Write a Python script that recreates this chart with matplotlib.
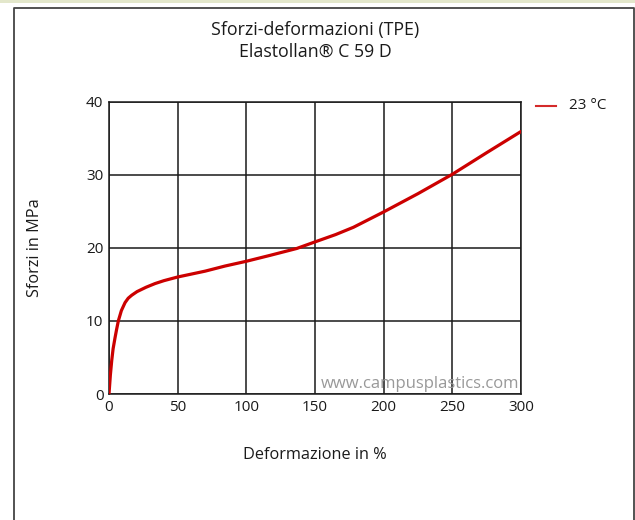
import matplotlib
matplotlib.use("Agg")
import matplotlib.pyplot as plt
from matplotlib.lines import Line2D
from matplotlib.patches import Rectangle

plt.rcParams['font.family'] = ['Open Sans', 'DejaVu Sans']

# curve
strain = [0, 1, 2, 3, 4.4, 5.5, 6.8, 9, 11.7, 14, 16.5, 20.4, 27, 33.5, 40, 50,
          60, 70, 84.5, 100, 117.3, 136.7, 150, 165, 178, 200, 212, 225, 250, 275, 300]
stress = [0, 2.6, 4.6, 6.2, 7.7, 8.8, 10.0, 11.4, 12.5, 13.1, 13.5, 14.0, 14.6, 15.1, 15.5, 16.0,
          16.4, 16.8, 17.5, 18.15, 18.96, 19.9, 20.8, 21.8, 22.8, 24.9, 26.1, 27.4, 30.05, 33.0, 35.9]
x_ticks = [0, 50, 100, 150, 200, 250, 300]
y_ticks = [0, 10, 20, 30, 40]

W, H = 635, 520
fig = plt.figure(figsize=(W / 100, H / 100), dpi=100)

# frame and top strip
fig.add_artist(Rectangle((0, 1 - 2.5 / H), 1, 2.5 / H, transform=fig.transFigure,
                         color='#e3e7cb', lw=0))
fig.add_artist(Line2D([13.5 / W, 13.5 / W, 633.5 / W, 633.5 / W],
                      [0, 1 - 8 / H, 1 - 8 / H, 0], transform=fig.transFigure,
                      color='#444444', lw=1.3))

ax = fig.add_axes([109 / W, 1 - 394 / H, 412 / W, 292.5 / H])
ax.plot(strain, stress, color='#cc0000', lw=2.3, solid_capstyle='round',
        solid_joinstyle='round', zorder=3)
ax.set_xlim(0, 300)
ax.set_ylim(0, 40)
ax.set_xticks(x_ticks)
ax.set_yticks(y_ticks)
ax.grid(True, color='#1a1a1a', lw=1.1)
for s in ax.spines.values():
    s.set_color('#1a1a1a')
    s.set_linewidth(1.1)
ax.tick_params(length=0, pad=4, labelsize=11, colors='#1a1a1a')

ax.text(0.995, 0.035, 'www.campusplastics.com', transform=ax.transAxes,
        ha='right', va='center', fontsize=12, color='#999999', zorder=4)

fig.text(315 / W, 1 - 30.5 / H, 'Sforzi-deformazioni (TPE)', ha='center', va='center',
         fontsize=12.8, color='#1a1a1a')
fig.text(315 / W, 1 - 51.5 / H, 'Elastollan® C 59 D', ha='center', va='center',
         fontsize=12.8, color='#1a1a1a')
fig.text(315 / W, 1 - 455 / H, 'Deformazione in %', ha='center', va='center',
         fontsize=11.7, color='#1a1a1a')
fig.text(35 / W, 1 - 248 / H, 'Sforzi in MPa', ha='center', va='center',
         rotation=90, fontsize=11.7, color='#1a1a1a')

# legend
fig.add_artist(Line2D([536 / W, 556 / W], [1 - 106 / H, 1 - 106 / H],
                      transform=fig.transFigure, color='#d42a2a', lw=1.5))
fig.text(569 / W, 1 - 106 / H, '23 °C', ha='left', va='center',
         fontsize=11, color='#1a1a1a')

fig.savefig('out.png', dpi=100)
